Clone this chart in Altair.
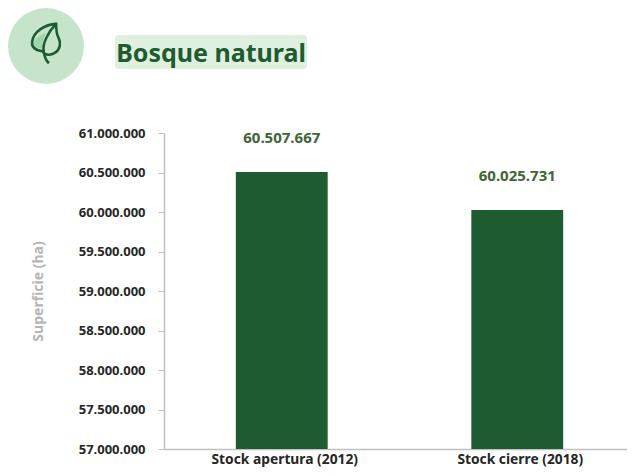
import altair as alt
import pandas as pd

categories = ["Stock apertura (2012)", "Stock cierre (2018)"]
values = [60507667, 60025731]
value_labels = ["60.507.667", "60.025.731"]
title_text = ["Bosque natural"]
y_axis_title = "Superficie (ha)"
y_min, y_max, y_step = 57000000, 61000000, 500000

FONT = "Noto Sans"
df = pd.DataFrame({"cat": categories, "val": values, "lab": value_labels})

x = alt.X("cat:N", sort=categories, title=None,
          scale=alt.Scale(range=[0, 471], paddingInner=0.61, paddingOuter=0.305),
          axis=alt.Axis(labelAngle=0, labelFont=FONT, labelFontSize=13.8, labelFontWeight="bold",
                        labelColor="#262626", labelPadding=3, labelOffset=3, ticks=False, domainColor="#bfbfbf",
                        domainWidth=1.5, labelOverlap=False))
y = alt.Y("val:Q", title=y_axis_title,
          scale=alt.Scale(domain=[y_min, y_max], nice=False, zero=False),
          axis=alt.Axis(values=list(range(y_min, y_max + 1, y_step)),
                        labelExpr="replace(format(datum.value, ','), /,/g, '.')",
                        labelFont=FONT, labelFontSize=13, labelFontWeight="bold", labelColor="#262626",
                        labelPadding=13, tickColor="#bfbfbf", tickSize=6, domainColor="#bfbfbf",
                        domainWidth=1.5, grid=False, labelOverlap=False,
                        titleFont=FONT, titleFontSize=14, titleFontWeight="bold", titleColor="#b5b5b5",
                        titlePadding=33))

bars = alt.Chart(df).mark_bar(color="#1e5b31", clip=True).encode(x=x, y=y)
labels = alt.Chart(df).mark_text(font=FONT, fontSize=15, fontWeight="bold", color="#3f6534", dy=-34).encode(
    x=x, y=y, text="lab:N")

# page → view offset: x-164, y-133
circle = alt.Chart(df.head(1)).mark_point(shape="circle", size=5776, filled=True, color="#c5e4c9", opacity=1).encode(
    x=alt.value(46 - 164), y=alt.value(46 - 133))
LEAF = ("M0.42,-0.92 C0.0,-0.9 -0.55,-0.62 -0.58,-0.15 C-0.6,0.05 -0.45,0.17 -0.15,0.22 "
        "C0,0.42 0.22,0.38 0.38,0.28 C0.62,0.12 0.62,-0.15 0.52,-0.35 C0.42,-0.55 0.42,-0.75 0.42,-0.92 Z "
        "M0.42,-0.92 C0.1,-0.6 -0.15,-0.1 -0.1,0.2 C-0.07,0.45 0.05,0.65 0.12,0.72")
LEAF_FILL = "M0.0,-0.55 C-0.3,-0.4 -0.52,-0.3 -0.5,-0.1 C-0.45,0.05 -0.3,0.1 -0.18,0.12 C-0.18,-0.1 -0.1,-0.35 0.0,-0.55 Z"
leaf_fill = alt.Chart(df.head(1)).mark_point(shape=LEAF_FILL, size=2304, filled=True, color="#9fd3a8", opacity=1).encode(
    x=alt.value(46 - 164), y=alt.value(46 - 133))
leaf = alt.Chart(df.head(1)).mark_point(shape=LEAF, size=2304, filled=False, color="#1e5b31", opacity=1, strokeWidth=2.6).encode(
    x=alt.value(46 - 164), y=alt.value(46 - 133))

title_bg = alt.Chart(df.head(1)).mark_rect(color="#e0f0df", cornerRadius=3).encode(
    x=alt.value(115 - 164), x2=alt.value(307 - 164), y=alt.value(35 - 133), y2=alt.value(69 - 133))
title = alt.Chart(pd.DataFrame({"t": title_text})).mark_text(
    font=FONT, fontSize=25, fontWeight="bold", color="#1e5b31", align="center", baseline="middle").encode(
    x=alt.value(211 - 164), y=alt.value(53.5 - 133), text="t:N")

chart = alt.layer(bars, labels, circle, leaf_fill, leaf, title_bg, title).properties(
    width=463, height=316,
    padding={"left": 156, "top": 125, "right": 0, "bottom": 19},
    autosize=alt.AutoSizeParams(type="none"),
    background="white",
).configure_view(stroke=None)

chart.save("out.html", embed_options={"renderer": "svg", "actions": False})
